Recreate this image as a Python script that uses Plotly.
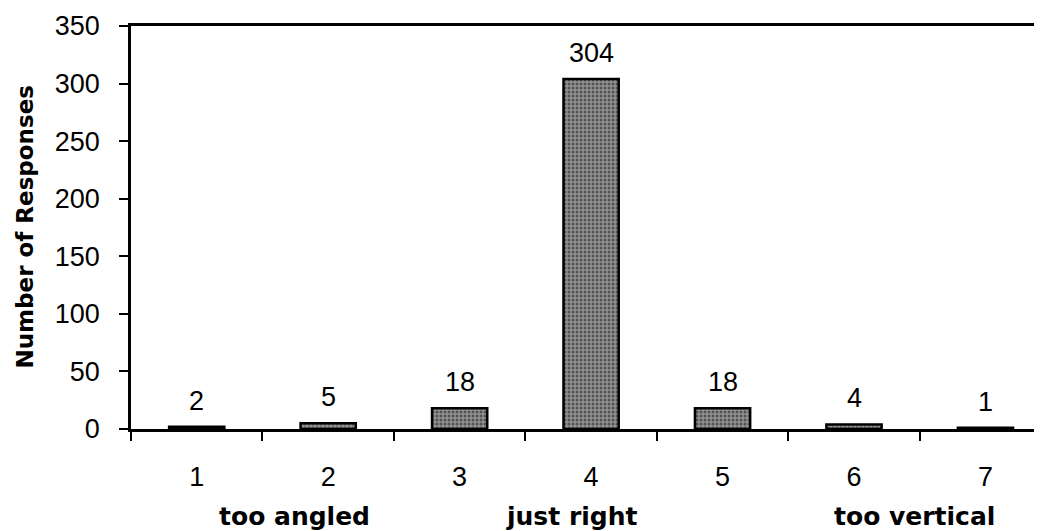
import plotly.graph_objects as go

categories = ["1", "2", "3", "4", "5", "6", "7"]
responses = [2, 5, 18, 304, 18, 4, 1]
y_ticks = [0, 50, 100, 150, 200, 250, 300, 350]
scale_labels = ["too angled", "just right", "too vertical"]
scale_label_pos = [0.74, 2.85, 5.46]

FONT = "Liberation Sans, Arial, Helvetica, sans-serif"
WIDE_BOLD = "DejaVu Sans, Liberation Sans, Arial, sans-serif"

fig = go.Figure()
fig.add_trace(go.Bar(
    x=list(range(len(categories))),
    y=responses,
    width=0.42,
    marker=dict(
        color="#707070",
        line=dict(color="black", width=2.5),
        pattern=dict(shape=".", fgcolor="#111111", bgcolor="#929292", size=4, solidity=0.45),
    ),
    showlegend=False,
))

annotations = []
for i, v in enumerate(responses):
    annotations.append(dict(
        x=i, y=v, xref="x", yref="y", text=str(v), showarrow=False,
        yanchor="bottom", yshift=9,
        font=dict(family=FONT, size=27, color="black"),
    ))
for lab, pos in zip(scale_labels, scale_label_pos):
    annotations.append(dict(
        x=pos, y=0, xref="x", yref="paper", text=lab, showarrow=False,
        yanchor="middle", yshift=-87,
        font=dict(family=WIDE_BOLD, size=25, color="black", weight="bold"),
    ))
annotations.append(dict(
    x=0, y=0.5, xref="paper", yref="paper", text="Number of Responses",
    showarrow=False, textangle=-90, xanchor="center", yanchor="middle",
    xshift=-107,
    font=dict(family=WIDE_BOLD, size=23, color="black", weight="bold"),
))

# page body has an 8px default margin; figure is sized/offset to compensate
fig.update_layout(
    width=1034, height=523,
    margin=dict(l=123, r=0, t=18, b=102, autoexpand=False),
    paper_bgcolor="white", plot_bgcolor="white",
    font=dict(family=FONT, size=27, color="black"),
    annotations=annotations,
    xaxis=dict(
        range=[-0.5, 6.43],
        tickmode="array",
        tickvals=list(range(len(categories))),
        ticktext=categories,
        ticks="",
        minor=dict(tickvals=[i - 0.5 for i in range(len(categories) + 1)],
                   ticks="outside", ticklen=9, tickwidth=1.5, tickcolor="black", showgrid=False),
        showline=True, linecolor="black", linewidth=2.5,
        mirror=True,
        ticklabelstandoff=22,
        showgrid=False, zeroline=False,
        automargin=False,
        tickfont=dict(family=FONT, size=27, color="black"),
    ),
    yaxis=dict(
        range=[0, 350],
        tickvals=y_ticks,
        showline=True, linecolor="black", linewidth=2.5,
        ticks="outside", ticklen=9, tickwidth=1.5, tickcolor="black",
        ticklabelstandoff=14,
        showgrid=False, zeroline=False,
        automargin=False,
        tickfont=dict(family=FONT, size=27, color="black"),
    ),
)

fig.write_html("out.html")
